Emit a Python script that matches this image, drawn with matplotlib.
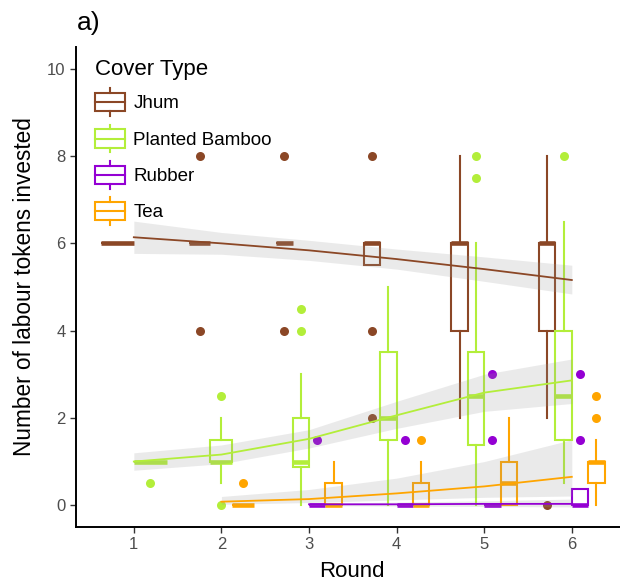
import matplotlib
matplotlib.use("Agg")
import matplotlib.pyplot as plt
from matplotlib.patches import Patch, Rectangle
from matplotlib.lines import Line2D
from matplotlib.legend_handler import HandlerBase

plt.rcParams['font.family'] = ['Liberation Sans', 'DejaVu Sans']

# cover types and colours
cover_types = ['Jhum', 'Planted Bamboo', 'Rubber', 'Tea']
cover_cols = ['#8B4726', '#B3EE3A', '#9400D3', '#FFA500']

# box summaries (per round)
jhum_rounds = [1, 2, 3, 4, 5, 6]
jhum_q1 = [6, 6, 6, 5.5, 4, 4]
jhum_med = [6, 6, 6, 6, 6, 6]
jhum_q3 = [6, 6, 6, 6, 6, 6]
jhum_lo = [6, 6, 6, 5.5, 2, 2]
jhum_hi = [6, 6, 6, 6, 8, 8]
jhum_out = [[], [4, 8], [4, 8], [2, 4, 8], [], [0]]

bamboo_rounds = [1, 2, 3, 4, 5, 6]
bamboo_q1 = [1, 1, 0.875, 1.5, 1.375, 1.5]
bamboo_med = [1, 1, 1, 2, 2.5, 2.5]
bamboo_q3 = [1, 1.5, 2, 3.5, 3.5, 4]
bamboo_lo = [1, 0.5, 0, 0, 0, 0.5]
bamboo_hi = [1, 2, 3, 5, 6, 6.5]
bamboo_out = [[0.5], [0, 2.5], [4, 4.5], [], [7.5, 8], [8]]

rubber_rounds = [3, 4, 5, 6]
rubber_q1 = [0, 0, 0, 0]
rubber_med = [0, 0, 0, 0]
rubber_q3 = [0, 0, 0, 0.375]
rubber_lo = [0, 0, 0, 0]
rubber_hi = [0, 0, 0, 0.375]
rubber_out = [[1.5], [1.5], [1.5, 3], [1.5, 3]]

tea_rounds = [2, 3, 4, 5, 6]
tea_q1 = [0, 0, 0, 0, 0.5]
tea_med = [0, 0, 0, 0.5, 1]
tea_q3 = [0, 0.5, 0.5, 1, 1]
tea_lo = [0, 0, 0, 0, 0]
tea_hi = [0, 1, 1, 2, 1.5]
tea_out = [[0.5], [], [1.5], [], [2, 2.5]]

# fitted trend + confidence band
jhum_fx = [1, 2, 3, 4, 5, 6]
jhum_fit = [6.14, 6.0, 5.84, 5.64, 5.41, 5.16]
jhum_flo = [5.77, 5.75, 5.61, 5.41, 5.13, 4.84]
jhum_fhi = [6.51, 6.25, 6.07, 5.87, 5.69, 5.50]

bamboo_fx = [1, 2, 3, 4, 5, 6]
bamboo_fit = [1.0, 1.16, 1.52, 2.06, 2.58, 2.86]
bamboo_flo = [0.80, 0.95, 1.31, 1.76, 2.15, 2.33]
bamboo_fhi = [1.20, 1.38, 1.73, 2.38, 3.0, 3.35]

rubber_fx = [3, 4, 5, 6]
rubber_fit = [0.02, 0.02, 0.03, 0.03]
rubber_flo = [-0.01, -0.02, -0.03, -0.04]
rubber_fhi = [0.04, 0.07, 0.10, 0.14]

tea_fx = [2, 3, 4, 5, 6]
tea_fit = [0.08, 0.14, 0.27, 0.43, 0.65]
tea_flo = [0.02, 0.06, 0.12, 0.18, 0.21]
tea_fhi = [0.20, 0.36, 0.62, 1.0, 1.5]

boxes = [
    (jhum_rounds, jhum_q1, jhum_med, jhum_q3, jhum_lo, jhum_hi, jhum_out),
    (bamboo_rounds, bamboo_q1, bamboo_med, bamboo_q3, bamboo_lo, bamboo_hi, bamboo_out),
    (rubber_rounds, rubber_q1, rubber_med, rubber_q3, rubber_lo, rubber_hi, rubber_out),
    (tea_rounds, tea_q1, tea_med, tea_q3, tea_lo, tea_hi, tea_out),
]
fits = [
    (jhum_fx, jhum_fit, jhum_flo, jhum_fhi),
    (bamboo_fx, bamboo_fit, bamboo_flo, bamboo_fhi),
    (rubber_fx, rubber_fit, rubber_flo, rubber_fhi),
    (tea_fx, tea_fit, tea_flo, tea_fhi),
]

# which cover types are present in each round (for dodging)
present = {}
for i, b in enumerate(boxes):
    for r in b[0]:
        present.setdefault(r, []).append(i)

fig = plt.figure(figsize=(6.2, 5.83), dpi=100)
ax = fig.add_axes([76/620, 56/583, 544/620, 480/583])

lw = 1.5
for i, (rounds, q1, med, q3, lo, hi, out) in enumerate(boxes):
    col = cover_cols[i]
    stats, pos, wid = [], [], []
    for j, r in enumerate(rounds):
        grp = present[r]
        n = len(grp)
        w = 0.75 / n
        k = grp.index(i)
        pos.append(r + (k - (n - 1) / 2) * w)
        wid.append(w)
        stats.append(dict(q1=q1[j], med=med[j], q3=q3[j], whislo=lo[j],
                          whishi=hi[j], fliers=out[j]))
    ax.bxp(stats, positions=pos, widths=wid, showcaps=False, patch_artist=True,
           boxprops=dict(facecolor='white', edgecolor=col, linewidth=lw),
           medianprops=dict(color=col, linewidth=lw * 2.2, solid_capstyle='butt'),
           whiskerprops=dict(color=col, linewidth=lw),
           flierprops=dict(marker='o', markerfacecolor=col, markeredgecolor='none',
                           markersize=6.5),
           manage_ticks=False)

for i, (fx, fit, flo, fhi) in enumerate(fits):
    ax.fill_between(fx, flo, fhi, color='#999999', alpha=0.2, linewidth=0, zorder=4)
    ax.plot(fx, fit, color=cover_cols[i], lw=1.3, zorder=5)

ax.set_xlim(0.34, 6.55)
ax.set_ylim(-0.5, 10.5)
ax.set_xticks([1, 2, 3, 4, 5, 6])
ax.set_yticks([0, 2, 4, 6, 8, 10])
ax.tick_params(labelsize=12, labelcolor='#4D4D4D', color='#333333',
               length=4.5, width=1.0, pad=3)
for s in ['top', 'right']:
    ax.spines[s].set_visible(False)
for s in ['left', 'bottom']:
    ax.spines[s].set_linewidth(1.4)

ax.set_xlabel('Round', fontsize=16, va='baseline')
ax.xaxis.set_label_coords((352 - 76) / 544, (527 - 577) / 480)
ax.set_ylabel('Number of labour tokens invested', fontsize=16.3)
ax.yaxis.set_label_coords((36 - 76) / 544, 0.5)

fig.text(77/620, 1 - 23/583, 'a)', fontsize=19, va='center', ha='left')


class BoxKey(HandlerBase):
    def create_artists(self, legend, orig_handle, xdescent, ydescent,
                       width, height, fontsize, trans):
        c = orig_handle.get_edgecolor()
        x0, y0 = -xdescent, -ydescent
        xm = x0 + width / 2
        box = Rectangle((x0, y0 + 0.17 * height), width, 0.66 * height,
                        facecolor='white', edgecolor=c, lw=lw, transform=trans)
        med = Line2D([x0, x0 + width], [y0 + 0.5 * height] * 2, color=c, lw=lw,
                     transform=trans)
        top = Line2D([xm, xm], [y0 + 0.83 * height, y0 + height], color=c, lw=lw,
                     transform=trans)
        bot = Line2D([xm, xm], [y0, y0 + 0.17 * height], color=c, lw=lw,
                     transform=trans)
        return [box, med, top, bot]


handles = [Patch(edgecolor=c, facecolor='white') for c in cover_cols]
leg = ax.legend(handles, cover_types, title='Cover Type', loc='upper left',
                bbox_to_anchor=(95/620, 1 - 59/583), bbox_transform=fig.transFigure,
                frameon=False, fontsize=13.5, title_fontsize=16, alignment='left',
                handler_map={Patch: BoxKey()}, handlelength=1.6, handleheight=1.9,
                handletextpad=0.45, labelspacing=0.46, borderpad=0, borderaxespad=0)
leg._legend_box.sep = 6
leg.set_zorder(10)

fig.savefig('out.png', dpi=100)
